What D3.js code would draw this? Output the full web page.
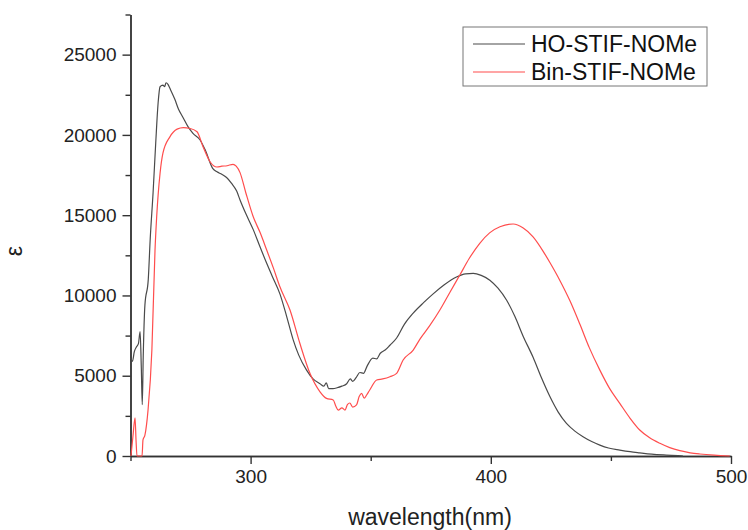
<!DOCTYPE html>
<html>
<head>
<meta charset="utf-8">
<script src="https://cdn.jsdelivr.net/npm/d3@7"></script>
<style>
  body { margin: 0; background: #fff; }
  svg text { font-family: "Liberation Sans", Arial, sans-serif; fill: #222; }
  .axis path, .axis line { stroke: #333; stroke-width: 1.4; }
</style>
</head>
<body>
<svg id="chart"></svg>
<script>
// series names
const seriesNames = ['HO-STIF-NOMe', 'Bin-STIF-NOMe']

// [wavelength nm, epsilon]
const hoStif = [
  [250,6100],[250.8,5900],[251.6,6500],[252.5,6800],[253.3,7000],[254.0,7750],[254.5,5500],[254.9,3200],
  [255.3,6200],[256.0,9400],[257.4,11000],[258.2,13500],[259.4,16400],[260.5,19500],[261.5,22000],
  [262.3,23000],[263.5,23100],[264.2,23000],[264.8,23250],[265.6,23150],[266.4,22900],[268.5,22200],
  [270,21600],[271.8,21100],[274,20500],[276,20100],[278.9,19700],[281,19100],[284.3,17900],[286,17700],
  [288,17550],[290,17350],[292,17000],[294.2,16500],[295.6,15950],[298,15100],[301.1,14100],[304,13000],
  [306.7,12000],[309,11200],[312.2,10100],[315,8700],[317.7,7250],[320,6300],[323.3,5350],[326,4800],
  [328.9,4500],[330.5,4350],[331.5,4550],[332.5,4200],[334.3,4200],[336,4250],[338,4350],[340,4500],
  [341.5,4800],[342.5,4650],[344,4900],[345.5,5200],[347,5150],[348.5,5600],[350.9,6100],[352.5,6050],
  [354,6400],[356,6600],[358,6900],[360.8,7350],[364,8200],[367.7,8900],[372,9550],[376,10100],
  [380.5,10650],[385.7,11150],[389.5,11350],[392.7,11380],[396,11250],[399.6,10950],[403,10450],
  [406.6,9700],[410,8700],[413.5,7450],[417.6,6150],[421,4900],[424.6,3700],[428,2750],[431.5,2030],
  [435,1550],[438.4,1200],[442,900],[445.4,680],[449,500],[453.7,370],[458,270],[462,200],[467,120],
  [473,60],[478,20],[480,0]
]

const binStif = [
  [250.2,0],[251.0,1200],[251.9,2370],[252.3,1000],[252.7,0],[254.8,0],[255.2,1000],[256.0,1300],
  [257.3,2860],[258.9,6600],[260.2,12800],[260.9,14900],[262.3,17600],[263.5,18860],[266.4,19880],
  [269.4,20360],[272,20450],[274.8,20400],[277.7,20200],[280.2,19260],[283.1,18330],[286.0,18000],
  [288,18050],[290.2,18080],[292.7,18170],[294,18050],[295.6,17650],[298,16400],[301.1,14900],
  [304,13900],[306.7,12830],[309.5,11700],[312.2,10540],[316.4,9090],[320.5,7020],[324.7,5150],
  [328.9,4000],[331.6,3590],[334.4,3490],[335.5,3100],[336.5,2860],[338,3000],[339.3,2860],[340.3,3200],
  [341.3,3300],[342.5,3050],[344.1,3180],[345.2,3700],[346.2,3900],[347.3,3600],[348.3,3800],
  [349.6,4110],[352.5,4730],[355,4800],[358.0,4940],[360.8,5150],[363.5,5980],[367.7,6600],[370.5,7280],
  [374.5,8100],[378.8,9090],[383,10200],[387.1,11270],[391,12300],[395.4,13250],[399.5,13900],
  [403.8,14280],[409.3,14450],[413.5,14200],[417.6,13650],[421.8,12750],[424.6,12050],[428.7,10950],
  [433,9650],[437.1,8200],[441,6750],[445.4,5350],[449.5,4200],[453.7,3280],[458,2350],[462.0,1620],
  [466,1150],[470.4,790],[474.5,520],[478.7,330],[483,200],[487.0,125],[493,50],[499.5,0]
]

const xMajorTicks = [300, 400, 500]
const xMinorTicks = [250, 350, 450]
const yMajorTicks = [0, 5000, 10000, 15000, 20000, 25000]
const yMinorTicks = [2500, 7500, 12500, 17500, 22500, 27500]

const config = {
  width: 748,
  height: 530,
  margin: {top: 14.5, right: 17, bottom: 74, left: 130.5},
  colors: ['#4a4a4a', '#ff4d4d']
}

const innerW = config.width - config.margin.left - config.margin.right
const innerH = config.height - config.margin.top - config.margin.bottom

const svg = d3.select('#chart')
  .attr('width', config.width)
  .attr('height', config.height)

const chart = svg.append('g')
  .attr('transform', `translate(${config.margin.left},${config.margin.top})`)

const xScale = d3.scaleLinear().domain([250, 500]).range([0, innerW])
const yScale = d3.scaleLinear().domain([0, 27500]).range([innerH, 0])

// minor ticks first, then labelled major ticks
chart.append('g')
  .attr('class', 'axis')
  .attr('transform', `translate(0,${innerH})`)
  .call(d3.axisBottom(xScale).tickValues(xMinorTicks).tickSize(5).tickSizeOuter(0).tickFormat(''))
chart.append('g')
  .attr('class', 'axis x-axis')
  .attr('transform', `translate(0,${innerH})`)
  .call(d3.axisBottom(xScale).tickValues(xMajorTicks).tickSize(8).tickSizeOuter(0).tickPadding(6).tickFormat(d3.format('d')))
  .call(g => g.selectAll('text').style('font-size', '19px'))

chart.append('g')
  .attr('class', 'axis')
  .call(d3.axisLeft(yScale).tickValues(yMinorTicks).tickSize(5).tickSizeOuter(0).tickFormat(''))
chart.append('g')
  .attr('class', 'axis y-axis')
  .call(d3.axisLeft(yScale).tickValues(yMajorTicks).tickSize(8).tickSizeOuter(0).tickPadding(6).tickFormat(d3.format('d')))
  .call(g => g.selectAll('text').style('font-size', '19px'))

const line = d3.line()
  .x(d => xScale(d[0]))
  .y(d => yScale(d[1]))
  .curve(d3.curveMonotoneX)

chart.selectAll('.series')
  .data([hoStif, binStif])
  .join('path')
    .attr('class', 'series')
    .attr('fill', 'none')
    .attr('stroke', (d, i) => config.colors[i])
    .attr('stroke-width', 1.2)
    .attr('d', line)

// axis titles
svg.append('text')
  .attr('x', 430)
  .attr('y', 525)
  .attr('text-anchor', 'middle')
  .style('font-size', '23px')
  .text('wavelength(nm)')

svg.append('text')
  .attr('transform', 'translate(22,251) rotate(-90)')
  .attr('text-anchor', 'middle')
  .style('font-size', '23px')
  .text('ε')

// legend
const legend = svg.append('g').attr('transform', 'translate(463,27)')
legend.append('rect')
  .attr('width', 244)
  .attr('height', 59)
  .attr('fill', '#fff')
  .attr('stroke', '#777')
  .attr('stroke-width', 1)

const rows = legend.selectAll('.row')
  .data(seriesNames)
  .join('g')
    .attr('class', 'row')
    .attr('transform', (d, i) => `translate(0,${17 + i * 28})`)
rows.append('line')
  .attr('x1', 10).attr('x2', 62)
  .attr('stroke', (d, i) => config.colors[i])
  .attr('stroke-width', 1.2)
rows.append('text')
  .attr('x', 68)
  .attr('dy', '0.36em')
  .style('font-size', '23px')
  .style('fill', '#111')
  .text(d => d)
</script>
</body>
</html>
